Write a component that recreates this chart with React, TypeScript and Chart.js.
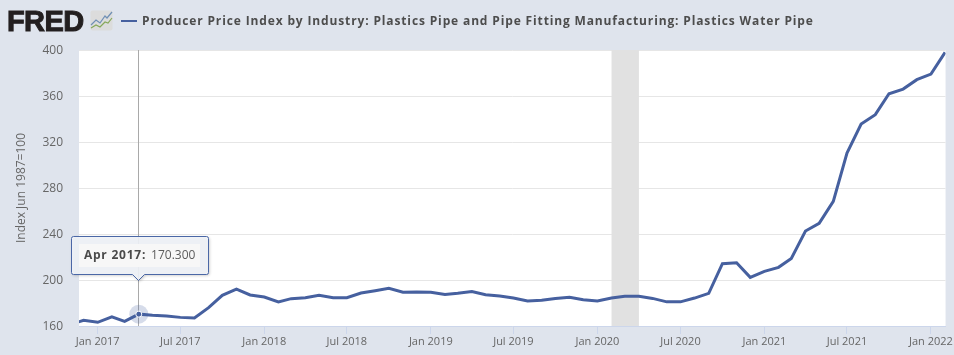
import React, { useEffect, useRef } from "react";
import { Chart, registerables } from "chart.js";

Chart.register(...registerables);

const TITLE = "Producer Price Index by Industry: Plastics Pipe and Pipe Fitting Manufacturing: Plastics Water Pipe";
const Y_TITLE = "Index Jun 1987=100";

const months = [
  "2016-11", "2016-12",
  "2017-01", "2017-02", "2017-03", "2017-04", "2017-05", "2017-06", "2017-07", "2017-08", "2017-09", "2017-10", "2017-11", "2017-12",
  "2018-01", "2018-02", "2018-03", "2018-04", "2018-05", "2018-06", "2018-07", "2018-08", "2018-09", "2018-10", "2018-11", "2018-12",
  "2019-01", "2019-02", "2019-03", "2019-04", "2019-05", "2019-06", "2019-07", "2019-08", "2019-09", "2019-10", "2019-11", "2019-12",
  "2020-01", "2020-02", "2020-03", "2020-04", "2020-05", "2020-06", "2020-07", "2020-08", "2020-09", "2020-10", "2020-11", "2020-12",
  "2021-01", "2021-02", "2021-03", "2021-04", "2021-05", "2021-06", "2021-07", "2021-08", "2021-09", "2021-10", "2021-11", "2021-12",
  "2022-01", "2022-02",
];
const values = [
  161, 165,
  163.2, 168, 164, 170.3, 169.3, 168.7, 167.5, 167, 176, 186.7, 192, 187,
  185.2, 181, 183.8, 184.6, 186.7, 184.6, 184.6, 188.7, 190.7, 192.8, 189.3, 189.6,
  189.3, 187.5, 188.4, 189.9, 187.2, 186, 184.3, 181.7, 182.3, 184, 184.9, 182.9,
  181.7, 184.3, 185.8, 185.8, 184, 181, 181, 184.3, 188.4, 214.2, 215, 202.3,
  207.5, 211, 218.8, 242.6, 249.3, 268.4, 310.4, 335.6, 343.8, 362, 366, 374.2,
  379, 398,
];
const xTickMonths = ["2017-01", "2017-07", "2018-01", "2018-07", "2019-01", "2019-07", "2020-01", "2020-07", "2021-01", "2021-07", "2022-01"];
const xTickLabels = ["Jan 2017", "Jul 2017", "Jan 2018", "Jul 2018", "Jan 2019", "Jul 2019", "Jan 2020", "Jul 2020", "Jan 2021", "Jul 2021", "Jan 2022"];
const recessionMonths = ["2020-02", "2020-04"];
const activeMonth = "2017-04";
const activeLabel = "Apr 2017:";
const activeValue = "170.300";

const ms = (m: string) => {
  const [y, mo] = m.split("-").map(Number);
  return Date.UTC(y, mo - 1, 1);
};
const FONT = '"Open Sans", sans-serif';
const BG = "#dfe4ed";
const LINE = "#46609f";

const overlay = {
  id: "fredOverlay",
  beforeDraw(chart: any) {
    const { ctx, chartArea: a } = chart;
    ctx.save();
    ctx.fillStyle = "#ffffff";
    ctx.fillRect(a.left, a.top, a.right - a.left, a.bottom - a.top);
    ctx.restore();
  },
  beforeDatasetsDraw(chart: any) {
    const { ctx, chartArea: a, scales } = chart;
    const x0 = scales.x.getPixelForValue(ms(recessionMonths[0]));
    const x1 = scales.x.getPixelForValue(ms(recessionMonths[1]));
    ctx.save();
    ctx.fillStyle = "#e1e1e1";
    ctx.fillRect(x0, a.top, x1 - x0, a.bottom - a.top);
    const ax = Math.round(scales.x.getPixelForValue(ms(activeMonth))) - 0.5;
    ctx.strokeStyle = "#a9a9a9";
    ctx.lineWidth = 1;
    ctx.beginPath();
    ctx.moveTo(ax, a.top);
    ctx.lineTo(ax, a.bottom);
    ctx.stroke();
    ctx.restore();
  },
  afterDatasetsDraw(chart: any) {
    const { ctx, scales } = chart;
    const i = months.indexOf(activeMonth);
    const px = scales.x.getPixelForValue(ms(activeMonth));
    const py = scales.y.getPixelForValue(values[i]);
    ctx.save();
    ctx.beginPath();
    ctx.arc(px, py, 9.5, 0, Math.PI * 2);
    ctx.fillStyle = "rgba(70,96,159,0.22)";
    ctx.fill();
    ctx.beginPath();
    ctx.arc(px, py, 3, 0, Math.PI * 2);
    ctx.fillStyle = LINE;
    ctx.strokeStyle = "#ffffff";
    ctx.lineWidth = 1;
    ctx.fill();
    ctx.stroke();

    // tooltip box, anchored to the active point
    const L = Math.round(px) - 67.5, R = Math.round(px) + 69.5, T = Math.round(py) - 77.5, B = Math.round(py) - 39.5;
    const cx = Math.round(px) - 0.5;
    const path = () => {
      const r = 2;
      ctx.beginPath();
      ctx.moveTo(L + r, T);
      ctx.lineTo(R - r, T);
      ctx.quadraticCurveTo(R, T, R, T + r);
      ctx.lineTo(R, B - r);
      ctx.quadraticCurveTo(R, B, R - r, B);
      ctx.lineTo(cx + 6, B);
      ctx.lineTo(cx, B + 6);
      ctx.lineTo(cx - 6, B);
      ctx.lineTo(L + r, B);
      ctx.quadraticCurveTo(L, B, L, B - r);
      ctx.lineTo(L, T + r);
      ctx.quadraticCurveTo(L, T, L + r, T);
      ctx.closePath();
    };
    ctx.shadowColor = "rgba(0,0,0,0.25)";
    ctx.shadowBlur = 3;
    ctx.shadowOffsetX = 1;
    ctx.shadowOffsetY = 1;
    path();
    ctx.fillStyle = "rgba(240,243,248,0.92)";
    ctx.fill();
    ctx.shadowColor = "transparent";
    ctx.strokeStyle = "#4a67a6";
    ctx.lineWidth = 1;
    path();
    ctx.stroke();
    ctx.fillStyle = "#f7f7f7";
    ctx.fillRect(L + 7.5, T + 7.5, 121, 23);
    ctx.textBaseline = "middle";
    ctx.textAlign = "left";
    ctx.fillStyle = "#4a4a4a";
    ctx.font = `bold 12px ${FONT}`;
    ctx.letterSpacing = "0.75px";
    ctx.fillText(activeLabel, L + 12.5, T + 19.5);
    const w = ctx.measureText(activeLabel).width;
    ctx.font = `12px ${FONT}`;
    ctx.letterSpacing = "0px";
    ctx.fillStyle = "#5c5c5c";
    ctx.fillText(activeValue, L + 12.5 + w + 5, T + 19.5);
    ctx.restore();
  },
};

export default function App() {
  const ref = useRef<HTMLCanvasElement>(null);
  useEffect(() => {
    document.body.style.margin = "0";
    document.body.style.background = BG;
    const chart = new Chart(ref.current as HTMLCanvasElement, {
      type: "line",
      data: {
        datasets: [
          {
            data: months.map((m, i) => ({ x: ms(m), y: values[i] })),
            borderColor: LINE,
            borderWidth: 3,
            pointRadius: 0,
            tension: 0,
            fill: false,
          },
        ],
      },
      options: {
        animation: false,
        responsive: false,
        parsing: false,
        normalized: true,
        events: [],
        layout: { padding: { top: 50, right: 8, left: 0, bottom: 0 } },
        plugins: { legend: { display: false }, tooltip: { enabled: false }, title: { display: false } },
        scales: {
          x: {
            type: "linear",
            min: Date.UTC(2016, 10, 21),
            max: Date.UTC(2022, 1, 2),
            grid: { drawOnChartArea: false, drawTicks: true, tickLength: 8, color: "#ccd6eb" },
            border: { color: "#ccd6eb" },
            ticks: {
              autoSkip: false,
              maxRotation: 0,
              minRotation: 0,
              padding: 1,
              color: "#666666",
              font: { family: FONT, size: 11 },
              callback: (v: any) => {
                const i = xTickMonths.findIndex((m) => ms(m) === v);
                return i >= 0 ? xTickLabels[i] : "";
              },
            },
            afterBuildTicks: (s: any) => {
              s.ticks = xTickMonths.map((m) => ({ value: ms(m) }));
            },
            afterFit: (s: any) => {
              s.height = 29;
            },
          },
          y: {
            min: 160,
            max: 400,
            grid: { color: "#e6e6e6", drawTicks: false, lineWidth: 1 },
            border: { display: false },
            ticks: {
              stepSize: 40,
              padding: 16,
              labelOffset: 1,
              color: "#666666",
              font: { family: FONT, size: 12 },
            },
            title: {
              display: true,
              text: Y_TITLE,
              color: "#666666",
              font: { family: FONT, size: 12 },
              padding: { top: 14, bottom: 0 },
            },
            afterFit: (s: any) => {
              s.width = 79;
            },
          },
        },
      },
      plugins: [overlay],
    } as any);
    return () => chart.destroy();
  }, []);
  return (
    <div style={{ position: "relative", width: 954, height: 355, background: BG, overflow: "hidden" }}>
      <canvas ref={ref} width={954} height={355} style={{ display: "block" }} />
      <div
        style={{
          position: "absolute", left: 7, top: 3, fontFamily: '"Liberation Sans", sans-serif', fontWeight: 900,
          fontSize: 29, lineHeight: "36px", color: "#231f20", letterSpacing: -0.6, WebkitTextStroke: "1px #231f20",
        }}
      >
        FRED
      </div>
      <svg width="23" height="22" viewBox="0 0 23 22" style={{ position: "absolute", left: 90, top: 10 }}>
        <rect x="0.5" y="0.5" width="22" height="20" rx="2" fill="#dcdcdc" />
        <polyline points="1,15 6,10 10,13 15,6 17,8 22,2" fill="none" stroke="#6f8fb5" strokeWidth="1.2" />
        <polyline points="1,18 6,15 10,17 15,12 18,13 22,8" fill="none" stroke="#86a85a" strokeWidth="1.2" />
      </svg>
      <div style={{ position: "absolute", left: 121, top: 20, width: 16, height: 2, background: LINE }} />
      <div
        style={{
          position: "absolute", left: 142, top: 12, fontFamily: FONT, fontWeight: 700, fontSize: 12,
          lineHeight: "18px", color: "#4d4d4d", letterSpacing: 0.86, whiteSpace: "nowrap",
        }}
      >
        {TITLE}
      </div>
    </div>
  );
}
